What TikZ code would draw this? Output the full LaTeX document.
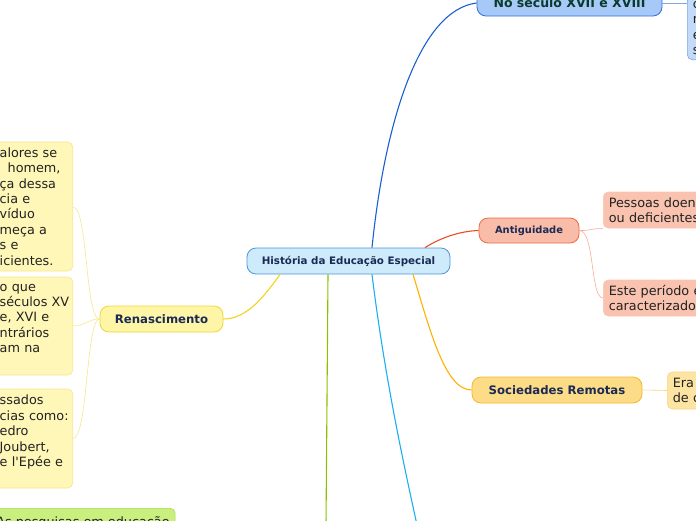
\documentclass[tikz,border=0pt]{standalone}
\usepackage{fontspec}
\setmainfont{DejaVu Sans}[Ligatures=TeXOff]
\usetikzlibrary{positioning}

\definecolor{navy}{HTML}{1B2A55}
\definecolor{pine}{HTML}{0B3A2C}
\definecolor{inkgray}{HTML}{222222}
\definecolor{rootfill}{HTML}{CDEBFB}
\definecolor{rootline}{HTML}{4F95D6}
\definecolor{bluefill}{HTML}{A6C9F8}
\definecolor{blueline}{HTML}{2F72D9}
\definecolor{bluewire}{HTML}{1A5FCC}
\definecolor{bluepale}{HTML}{C3DAF8}
\definecolor{blueedge}{HTML}{7FA8E6}
\definecolor{salmonfill}{HTML}{F9BCA8}
\definecolor{salmonline}{HTML}{F06A40}
\definecolor{redwire}{HTML}{EE4B1E}
\definecolor{salmonpale}{HTML}{F9C3B0}
\definecolor{salmonwire}{HTML}{F7AC94}
\definecolor{amberfill}{HTML}{FDDC88}
\definecolor{amberline}{HTML}{F6B62C}
\definecolor{amberwire}{HTML}{FFB000}
\definecolor{amberpale}{HTML}{FDE4A2}
\definecolor{amberedge}{HTML}{FCD680}
\definecolor{lemonfill}{HTML}{FEF5A6}
\definecolor{lemonline}{HTML}{EFD634}
\definecolor{lemonwire}{HTML}{F2D31E}
\definecolor{lemonpale}{HTML}{FFF7B8}
\definecolor{lemonedge}{HTML}{F6E58C}
\definecolor{limefill}{HTML}{C9F07E}
\definecolor{limeline}{HTML}{A6D84E}
\definecolor{limewire}{HTML}{86C400}
\definecolor{skywire}{HTML}{1DAEF0}

\begin{document}
\begin{tikzpicture}[
		x=1pt, y=-1pt,
		topic/.style={draw, line width=0.8pt, rounded corners=9pt, inner sep=0pt,
			minimum height=26pt, text=navy, font=\bfseries\fontsize{11.7}{14}\selectfont},
		leaf/.style={draw, line width=0.6pt, rounded corners=5pt, inner xsep=5.5pt,
			inner ysep=5pt, text=inkgray, align=left, font=\fontsize{12.8}{15.4}\selectfont},
		wire/.style={line width=1.1pt},
		twig/.style={line width=0.6pt}
	]
	\useasboundingbox (0,0) rectangle (696,520);
	\clip (0,0) rectangle (696,520);

	% main topics
	\node[topic, fill=rootfill, draw=rootline, minimum width=203pt,
		font=\bfseries\fontsize{10.3}{12}\selectfont] (root) at (348.5,261) {História da Educação Especial};
	\node[topic, fill=bluefill, draw=blueline, minimum width=185pt, text=pine,
		font=\bfseries\fontsize{12.5}{14}\selectfont] (seculo) at (569.5,3) {No seculo XVII e XVIII};
	\node[topic, fill=salmonfill, draw=salmonline, minimum width=100pt, minimum height=25pt,
		font=\bfseries\fontsize{9.9}{12}\selectfont] (antiga) at (529,230.5) {Antiguidade};
	\node[topic, fill=amberfill, draw=amberline, minimum width=170pt] (remotas) at (557,390) {Sociedades Remotas};
	\node[topic, fill=lemonfill, draw=lemonline, minimum width=123pt] (renasc) at (161.5,319) {Renascimento};

	% subtopics
	\node[leaf, fill=bluepale, draw=blueedge, anchor=south west, text width=60pt] (seculoA) at (687,60) {c\\n\\e\\s};
	\node[leaf, fill=salmonpale, draw=salmonpale, anchor=west, text width=150pt,
		minimum height=36pt] (antigaA) at (603,210) {Pessoas doentes\\ou deficientes};
	\node[leaf, fill=salmonpale, draw=salmonpale, anchor=west, text width=150pt,
		minimum height=36pt] (antigaB) at (603,298) {Este período é\\caracterizado};
	\node[leaf, fill=amberpale, draw=amberedge, anchor=west, text width=100pt,
		minimum height=37pt] (remotasA) at (667,390.5) {Era\\de c};
	\node[leaf, fill=lemonpale, draw=lemonedge, anchor=east, text width=67.5pt,
		minimum height=129pt] (renascA) at (73,206.5)
		{alores~se\\\hspace*{8pt}homem,\\ça~dessa\\cia~e\\víduo\\meça~a\\s~e\\icientes.};
	\node[leaf, fill=lemonpale, draw=lemonedge, anchor=east, text width=67.5pt,
		minimum height=98pt] (renascB) at (73,326)
		{o~que\\séculos~XV\\e,~XVI~e\\ntrários\\am~na\\\mbox{}};
	\node[leaf, fill=lemonpale, draw=lemonedge, anchor=east, text width=67.5pt,
		minimum height=99pt] (renascC) at (73,438.5)
		{ssados\\cias~como:\\edro\\Joubert,\\e~l'Epée~e\\\mbox{}};
	\node[leaf, fill=limefill, draw=limeline, anchor=north west, inner ysep=8pt] (pesquisa) at (-9.5,508)
		{As pesquisas em educação};

	% branches from the root
	\draw[wire, bluewire] ([xshift=23.5pt]root.north) .. controls (385,120) and (420,10) .. (seculo.west);
	\draw[wire, redwire] ([xshift=76.5pt]root.north) .. controls (440,238) and (460,231) .. (antiga.west);
	\draw[wire, amberwire] ([xshift=64.5pt]root.south) .. controls (430,330) and (445,390) .. (remotas.west);
	\draw[wire, lemonwire] ([xshift=-68.5pt]root.south) .. controls (262,300) and (245,319) .. (renasc.east);
	\coordinate (limeend) at (326,525);
	\coordinate (skyend) at (417,525);
	\draw[wire, limewire] ([xshift=-20.5pt]root.south) -- (limeend);
	\draw[wire, skywire] ([xshift=23.5pt]root.south) .. controls (385,380) and (405,470) .. (skyend);

	% twigs to the subtopics
	\draw[twig, blueedge] (seculo.east) -- (seculo.east -| seculoA.west);
	\draw[twig, salmonwire] (antiga.east) .. controls (590,231) and (592,228) .. ([yshift=-0.5pt]antigaA.south west);
	\draw[twig, salmonwire] (antiga.east) .. controls (595,231) and (590,298) .. (antigaB.west);
	\draw[twig, amberedge] (remotas.east) -- (remotasA.west);
	\draw[twig, lemonedge] (renasc.west) .. controls (85,319) and (88,207) .. (73,207);
	\draw[twig, lemonedge] (renasc.west) .. controls (88,319) and (85,326) .. (renascB.east);
	\draw[twig, lemonedge] (renasc.west) .. controls (86,319) and (88,438) .. (renascC.east);
\end{tikzpicture}
\end{document}
